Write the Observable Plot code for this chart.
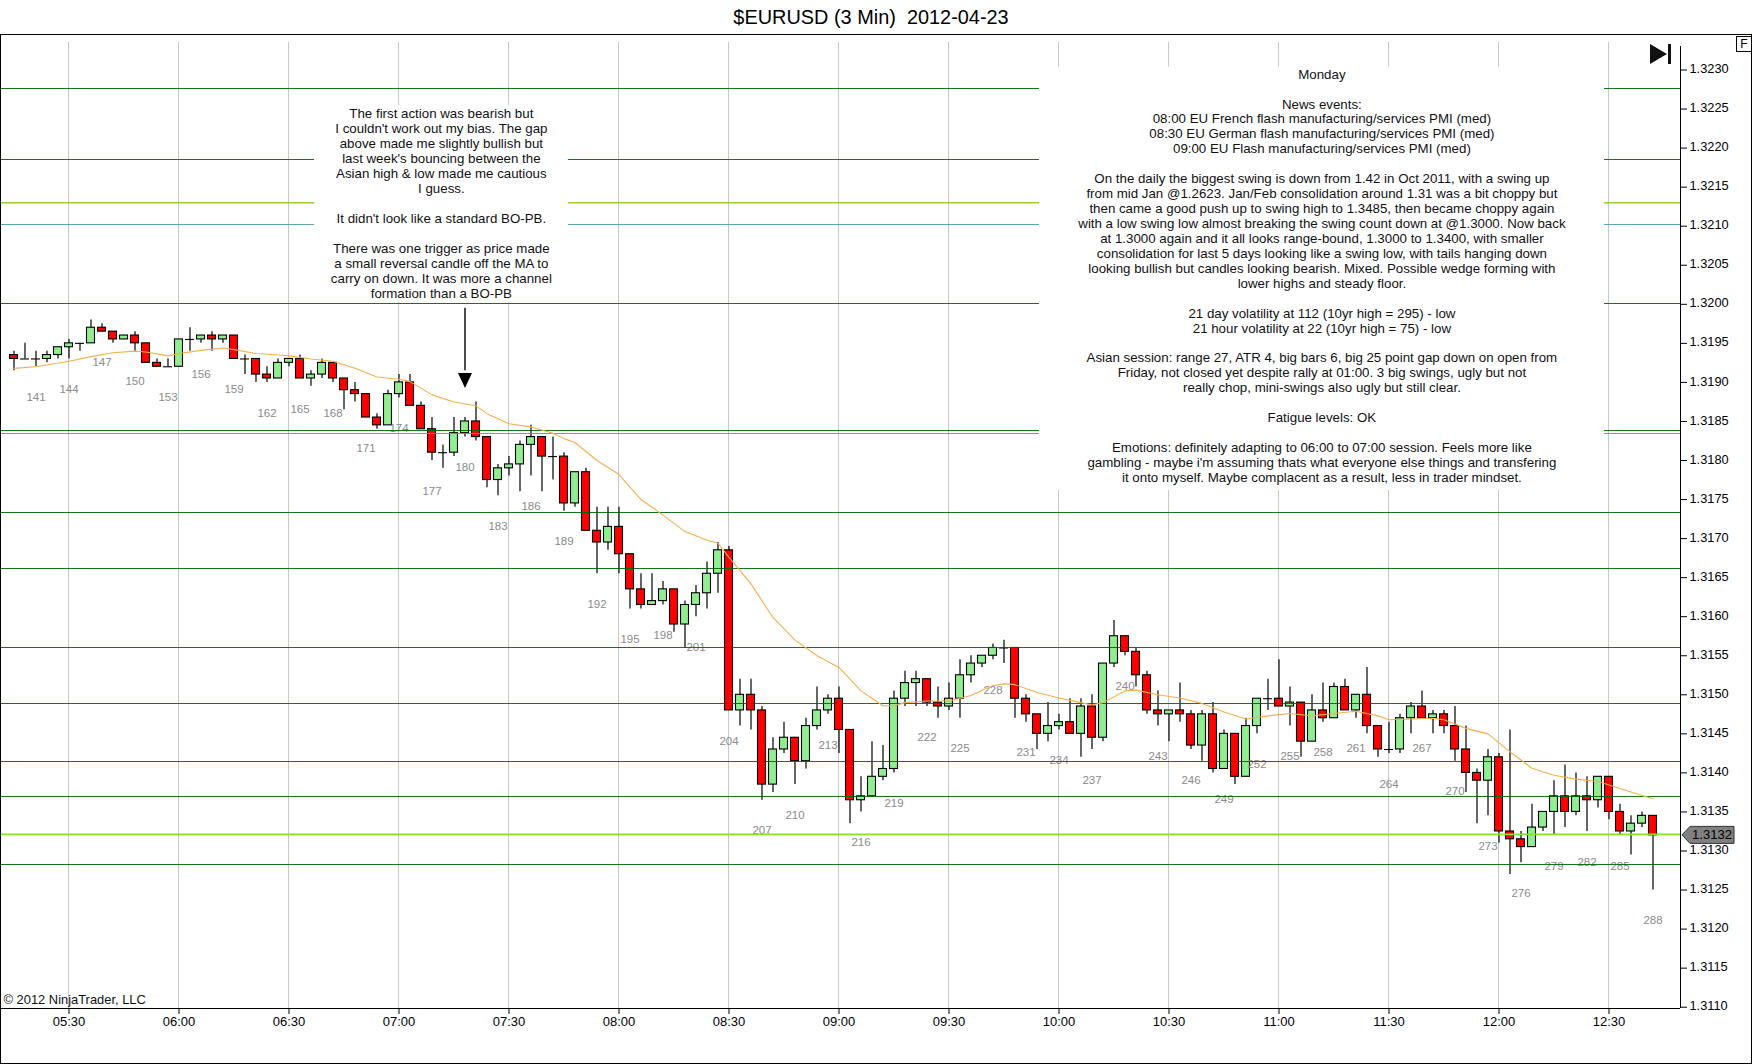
<!DOCTYPE html>
<html><head><meta charset="utf-8">
<script src="https://cdn.jsdelivr.net/npm/d3@7"></script>
<script src="https://cdn.jsdelivr.net/npm/@observablehq/plot@0.6"></script>
<style>
html,body{margin:0;padding:0;background:#fff;}
body{width:1752px;height:1064px;position:relative;overflow:hidden;font-family:"Liberation Sans",Arial,sans-serif;}
#title{position:absolute;left:0;top:0;width:1742px;height:34px;line-height:34px;text-align:center;font-size:19.9px;white-space:pre;color:#000;}
#chart{position:absolute;left:0;top:34px;}
#frame{position:absolute;left:0;top:34px;width:1750px;height:1028px;border:1px solid #000;pointer-events:none;}
#fbox{position:absolute;left:1736px;top:36px;width:14px;height:14px;border:1px solid #000;font-size:12px;line-height:14px;text-align:center;background:#fff;}
</style></head>
<body>
<div id="title">$EURUSD (3 Min)  2012-04-23</div>
<div id="chart"></div>
<div id="frame"></div>
<div id="fbox">F</div>
<script>
// Prices are pips above 1.3000; first bar is number 139, one bar every 3 minutes.
const firstBar = 139;
const opens = [
193.5,193,193,193,193.5,194.5,195,195,197,196.5,
195.5,196,195,192.5,192,192,195.5,195.5,196,195.5,
196,193,193,191,190.5,192.5,193,190.5,191,192.5,
190.5,189,188.5,185.5,184.5,188.5,190,187,184,181,
181,183.5,185,183,177.5,179,179.5,182,183,180.5,
180.5,174.5,178.5,171,169.5,171.5,168,163.5,161.5,162,
163.5,159,161.5,163,165.5,168.5,148,150,148,138.5,
143,144.5,141.5,146,148,149.5,145.5,136.5,137,139.5,
140.5,149.5,151.5,152,149,148.5,149.5,152.5,154,155,
156,156,149.5,147.5,145,146,146.5,145,148.5,144.5,
154,157.5,155.5,152.5,148,147.5,148,147.5,143.5,147.5,
140.5,145,139.5,146,149.5,149.5,148.5,149,144,148,
147,151,148,150,146,143,143,147,148.5,147,
147.5,146,143,140,139,142,132.5,131.5,130.5,133,
135,137,135,137,136.5,139.5,135,132.5,133.5,134.5];
const closes = [
193,193,193,193.5,194.5,195,195,197,196.5,195.5,
196,195,192.5,192,192,195.5,195.5,196,195.5,196,
193,193,191,190.5,192.5,193,190.5,191,192.5,190.5,
189,188.5,185.5,184.5,188.5,190,187,184,181,181,
183.5,185,183,177.5,179,179.5,182,183,180.5,180.5,
174.5,178.5,171,169.5,171.5,168,163.5,161.5,162,163.5,
159,161.5,163,165.5,168.5,148,150,148,138.5,143,
144.5,141.5,146,148,149.5,145.5,136.5,137,139.5,140.5,
149.5,151.5,152,149,148.5,149.5,152.5,154,155,156,
156,149.5,147.5,145,146,146.5,145,148.5,144.5,154,
157.5,155.5,152.5,148,147.5,148,147.5,143.5,147.5,140.5,
145,139.5,146,149.5,149.5,148.5,149,144,148,147,
151,148,150,146,143,143,147,148.5,147,147.5,
146,143,140,139,142,132.5,131.5,130.5,133,135,
137,135,137,136.5,139.5,135,132.5,133.5,134.5,132];
const highs = [
194,195,194,194,194.5,195.5,195,198,197.5,196.5,
196,196.5,195,193,193,195.5,197,196,196.5,196,
196,193.5,193,192,193,193,193.5,191.5,193,192.5,
190.5,190,188.5,186,189,191,191,187.5,185.5,182,
185.5,185.5,187.5,183,179.5,180.5,182.5,184.5,183,183,
181,178.5,179,174,174,174,168,165.5,165.5,164.5,
163.5,162,164,167,169.5,169,152,152,148.5,144.5,
146.5,144.5,147,151,150,151,145.5,139.5,144,143.5,
150.5,153,153,152,151,151.5,154.5,155,155,156.5,
157,156,150,147.5,149,147.5,149.5,149.5,150,154,
159.5,157.5,156,153,150.5,148,151.5,148,148,149,
145.5,145,147,149.5,152,154.5,151,149,150,151.5,
151.5,152,150,153.5,146,146.5,147.5,149,150.5,148,
148,148.5,146,140.5,143,142.5,145.5,132.5,136,135,
139,141,140,139.5,139.5,139.5,136,134.5,135,134.5];
const lows = [
191.5,193,192,192.5,193,193,194,195,196.5,195,
195.5,194,192.5,192,192,192,194,195,194,195,
193,191,190,190,190.5,192,190.5,189.5,190.5,190,
186.5,187.5,185.5,184,184.5,188,187,184,180,179,
180.5,183,182.5,176.5,175.5,178,176,178,176,177.5,
173.5,174,171,165.5,168.5,165.5,161,161,161.5,161.5,
158,156,160,161,163,148,146,145.5,136.5,137.5,
142.5,138.5,140.5,145.5,147.5,142.5,133.5,135,137,139,
140,148.5,148.5,148.5,147,148,147,151.5,153.5,154.5,
154,147,146.5,143,144,145.5,145,142,143,144,
153.5,155,151,147.5,146,144,146.5,143,141.5,140,
140.5,138.5,139.5,145,148,148.5,146,142,144,146.5,
147,148,147,145,142,142.5,142.5,145,147,145,
145,141.5,137.5,133.5,134.5,131,127,128.5,130.5,132.5,
132,133,134.5,132.5,135.5,134,132,129.5,133,125];
const maBars = [139,141,144,146,148,150,151,153,154,156,158,159,161,163,164,166,168,170,172,174,175,177,179,181,182,184,186,188,189,190,192,194,196,198,200,202,203,204,206,208,210,212,214,216,218,219,220,222,224,226,228,229,230,232,234,236,237,238,240,241,243,245,247,249,251,253,255,257,259,261,263,264,266,268,269,271,273,275,277,279,281,283,285,287,288];
const maValues = [191.8,192,192.7,193.3,193.8,194,193.9,193.4,193.7,194.1,194.4,194.2,193.7,193.5,193.4,193,192.7,191.8,190.7,190.4,190.1,188.4,187.5,187,186,184.7,184.3,183.5,182.8,182.3,180,178.2,175,173,170.9,169.8,169.4,167.6,164.2,159.9,157,155,153.5,150.5,148.6,148.6,149,149.2,149.2,149.9,151.2,151.4,151.3,150.3,149.6,149,148.7,149,150.5,150.6,150,149.6,148.9,147.8,146.9,147.3,147.6,147.3,147.6,147.9,147.3,146.8,146.9,147,146.8,145.7,145,142.7,140.6,139.7,139.2,138.9,138,137.1,136.7];
const levels = [227.6,218.5,213,210.2,200.1,183.85,183.5,173.33,166.13,156.03,148.93,141.43,137.03,132.13,128.23];
const levelColors = ["#006400","#006400","#9acd32","#4a9ea6","#006400","#006400","#4a9ea6","#006400","#006400","#006400","#006400","#006400","#006400","#84e234","#006400"];
const priceTicks = [110,115,120,125,130,135,140,145,150,155,160,165,170,175,180,185,190,195,200,205,210,215,220,225,230];
const timeTickBars = [144,154,164,174,184,194,204,214,224,234,244,254,264,274,284];
const lastClose = 132;

const noteLeft = "The first action was bearish but\nI couldn't work out my bias. The gap\nabove made me slightly bullish but\nlast week's bouncing between the\nAsian high & low made me cautious\nI guess.\n\nIt didn't look like a standard BO-PB.\n\nThere was one trigger as price made\na small reversal candle off the MA to\ncarry on down. It was more a channel\nformation than a BO-PB";
const noteRight = "Monday\n\nNews events:\n08:00 EU French flash manufacturing/services PMI (med)\n08:30 EU German flash manufacturing/services PMI (med)\n09:00 EU Flash manufacturing/services PMI (med)\n\nOn the daily the biggest swing is down from 1.42 in Oct 2011, with a swing up\nfrom mid Jan @1.2623. Jan/Feb consolidation around 1.31 was a bit choppy but\nthen came a good push up to swing high to 1.3485, then became choppy again\nwith a low swing low almost breaking the swing count down at @1.3000. Now back\nat 1.3000 again and it all looks range-bound, 1.3000 to 1.3400, with smaller\nconsolidation for last 5 days looking like a swing low, with tails hanging down\nlooking bullish but candles looking bearish. Mixed. Possible wedge forming with\nlower highs and steady floor.\n\n21 day volatility at 112 (10yr high = 295) - low\n21 hour volatility at 22 (10yr high = 75) - low\n\nAsian session: range 27, ATR 4, big bars 6, big 25 point gap down on open from\nFriday, not closed yet despite rally at 01:00. 3 big swings, ugly but not\nreally chop, mini-swings also ugly but still clear.\n\nFatigue levels: OK\n\nEmotions: definitely adapting to 06:00 to 07:00 session. Feels more like\ngambling - maybe i'm assuming thats what everyone else things and transfering\nit onto myself. Maybe complacent as a result, less in trader mindset.";

const price = v => 1.3 + v / 1e4;
const time = n => new Date(Date.UTC(2012, 3, 23, 5, 30) + (n - 144) * 180000);

const bars = closes.map((c, i) => ({
  n: firstBar + i,
  t0: time(firstBar + i - 0.5), t1: time(firstBar + i + 0.5), t: time(firstBar + i),
  o: price(opens[i]), c: price(c), h: price(highs[i]), l: price(lows[i]),
  up: c > opens[i], doji: c === opens[i]
}));
const bodies = bars.filter(d => !d.doji);
const dojis = bars.filter(d => d.doji);
const labelled = bars.filter(d => (d.n - 141) % 3 === 0 && d.n >= 141);
const ma = maBars.map((n, i) => ({t: time(n), p: price(maValues[i])}));
const levelRows = levels.map((v, i) => ({p: price(v), color: levelColors[i]}));

const xMin = 137.864, xMax = 290.5, yMin = price(109.834), yMax = price(234.545);
const noteSize = 13.3;
const textFont = {fontSize: noteSize, fontFamily: "Liberation Sans", fill: "#111"};
const isLight = c => c === "#9acd32" || c === "#84e234";

const chart = Plot.plot({
  width: 1752, height: 1030,
  marginTop: 0, marginBottom: 56, marginLeft: 1, marginRight: 72,
  style: {fontFamily: "Liberation Sans", background: "#fff", overflow: "visible", color: "#000"},
  x: {type: "utc", domain: [time(xMin), time(xMax)]},
  y: {domain: [yMin, yMax]},
  marks: [
    Plot.ruleX(timeTickBars.map(time), {y1: price(233.5), y2: yMin, stroke: "#c8c8c8", strokeWidth: 1, strokeOpacity: 1, shapeRendering: "crispEdges"}),
    Plot.ruleX(bars, {x: "t", y1: "l", y2: "h", stroke: "#000", strokeWidth: 1.2, strokeOpacity: 1}),
    Plot.rect(bodies, {x1: "t0", x2: "t1", y1: "o", y2: "c", insetLeft: 1.5, insetRight: 1.5,
      fill: d => d.up ? "#90ee90" : "#ff0000", stroke: "#000", strokeWidth: 1.1}),
    Plot.ruleY(dojis, {y: "c", x1: "t0", x2: "t1", insetLeft: 1, insetRight: 1, stroke: "#000", strokeWidth: 1.1, strokeOpacity: 1}),
    Plot.text(labelled, {x: "t", y: "l", dy: 30.5, text: d => String(d.n), fontSize: 11.5, fill: "#8a8a8a"}),
    Plot.ruleY(levelRows.filter(d => !isLight(d.color)), {y: "p", stroke: "color", strokeWidth: 1, strokeOpacity: 0.9, shapeRendering: "crispEdges"}),
    Plot.ruleY(levelRows.filter(d => isLight(d.color)), {y: "p", stroke: "color", strokeWidth: 1.6, strokeOpacity: 1}),
    Plot.line(ma, {x: "t", y: "p", stroke: "#f4b04a", strokeWidth: 1.1}),
    // white note panels
    Plot.rect([{}], {x1: time(166.32), x2: time(189.41), y1: price(200.23), y2: price(225.45), fill: "#fff"}),
    Plot.rect([{}], {x1: time(232.23), x2: time(283.59), y1: price(176.16), y2: price(230.36), fill: "#fff"}),
    Plot.text([noteLeft], {x: time(177.85), y: price(212.95), text: d => d, textAnchor: "middle", lineAnchor: "middle", lineHeight: 14.93 / noteSize, ...textFont}),
    Plot.text([noteRight], {x: time(257.9), y: price(203.69), text: d => d, textAnchor: "middle", lineAnchor: "middle", lineHeight: 14.93 / noteSize, ...textFont}),
    // arrow on bar 180
    Plot.ruleX([time(180)], {y1: price(199.5), y2: price(191.5), stroke: "#000", strokeWidth: 1.4, strokeOpacity: 1}),
    Plot.dot([time(180)], {x: d => d, y: price(190.25), stroke: "none", fill: "#000",
      symbol: {draw(ctx) { ctx.moveTo(-7, -7.5); ctx.lineTo(7, -7.5); ctx.lineTo(0, 7.5); ctx.closePath(); }}}),
    // axes
    Plot.ruleX([time(xMax)], {y1: price(233), y2: yMin, stroke: "#000", strokeOpacity: 1}),
    Plot.ruleY([yMin], {x1: time(xMin), x2: time(xMax), stroke: "#000", strokeOpacity: 1}),
    Plot.axisY(priceTicks.map(price), {anchor: "right", text: null, tickSize: 6, label: null, stroke: "#000"}),
    Plot.axisY(priceTicks.map(price), {anchor: "right", tickFormat: d3.format(".4f"), tickSize: 0, tickPadding: 9, dy: -1, fontSize: 12.8, label: null}),
    Plot.axisX(timeTickBars.map(time), {anchor: "bottom", tickFormat: d3.utcFormat("%H:%M"), tickSize: 6, tickPadding: 2, fontSize: 13, label: null, stroke: "#000"}),
    Plot.text(["© 2012 NinjaTrader, LLC"], {frameAnchor: "bottom-left", dx: 2, dy: -9, text: d => d, textAnchor: "start", lineAnchor: "middle", fontSize: 12.9, fill: "#111"}),
    // last price tag and go-to-end button, drawn from the plot's own y scale
    (index, scales, values, dims) => {
      const g = d3.create("svg:g");
      const yp = scales.y(price(lastClose));
      const xr = dims.width - dims.marginRight;
      g.append("path").attr("d", `M${xr + 2},${yp}L${xr + 10},${yp - 8.5}H${xr + 54}V${yp + 8.5}H${xr + 10}Z`)
        .attr("fill", "#808080").attr("stroke", "#333");
      g.append("text").attr("x", xr + 32).attr("y", yp).attr("dy", "0.35em").attr("text-anchor", "middle")
        .attr("font-size", 13).attr("fill", "#000").text(d3.format(".4f")(price(lastClose)));
      g.append("path").attr("d", `M${xr - 30},10V30L${xr - 13},20Z M${xr - 12},10h3v20h-3Z`).attr("fill", "#111");
      return g.node();
    }
  ]
});
document.getElementById("chart").appendChild(chart);
</script>
</body></html>
